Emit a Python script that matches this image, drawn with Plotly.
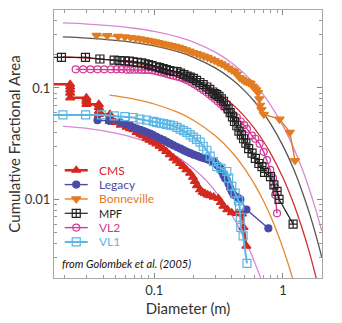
import plotly.graph_objects as go
import numpy as np

# ---- rock size-frequency data: diameter (m) and cumulative fractional area ----
cms_d = [0.010, 0.0222, 0.0222, 0.0222, 0.0222, 0.0222, 0.0297, 0.0297, 0.0297, 0.0297,
         0.0371, 0.0371, 0.0371, 0.0371, 0.0452, 0.0452, 0.0452, 0.0452, 0.050, 0.055,
         0.061, 0.065, 0.069, 0.073, 0.078, 0.082, 0.087, 0.092, 0.098, 0.104, 0.110,
         0.117, 0.124, 0.132, 0.141, 0.150, 0.159, 0.168, 0.178, 0.190, 0.200, 0.207,
         0.215, 0.227, 0.238, 0.248, 0.260, 0.272, 0.290, 0.315, 0.330, 0.345, 0.370,
         0.400, 0.440, 0.480, 0.494, 0.520]
cms_f = [0.108, 0.108, 0.102, 0.096, 0.090, 0.0816, 0.0816, 0.078, 0.075, 0.0713,
         0.0713, 0.067, 0.062, 0.058, 0.058, 0.055, 0.052, 0.0500, 0.0490, 0.0465,
         0.0444, 0.0432, 0.0423, 0.040, 0.0385, 0.0374, 0.0355, 0.0340, 0.0327, 0.0315, 0.0300,
         0.0285, 0.0270, 0.0252, 0.0235, 0.0222, 0.0210, 0.0198, 0.0185, 0.0172, 0.0158, 0.0145,
         0.0133, 0.0122, 0.0116, 0.0113, 0.0110, 0.0108, 0.0105, 0.0102, 0.0094, 0.0087, 0.0081,
         0.0076, 0.0075, 0.0074, 0.0056, 0.0038]

legacy_d = [0.0362, 0.0446, 0.0541, 0.060, 0.065, 0.0686, 0.073, 0.078, 0.0825, 0.0873,
            0.093, 0.098, 0.104, 0.111, 0.118, 0.125, 0.133, 0.141, 0.150, 0.160, 0.170,
            0.179, 0.190, 0.202, 0.215, 0.227, 0.240, 0.255, 0.270, 0.288, 0.300, 0.312,
            0.325, 0.335, 0.345, 0.355, 0.366, 0.378, 0.389, 0.401, 0.413, 0.440, 0.466,
            0.520, 0.770]
legacy_f = [0.0514, 0.0507, 0.0491, 0.0475, 0.0460, 0.0444, 0.0432, 0.0420, 0.0410, 0.0400,
            0.0390, 0.0378, 0.0365, 0.0352, 0.0340, 0.0328, 0.0316, 0.0305, 0.0295, 0.0285, 0.0275,
            0.0267, 0.0260, 0.0252, 0.0246, 0.0240, 0.0235, 0.0230, 0.0225, 0.0218, 0.0210, 0.0200,
            0.0190, 0.0178, 0.0165, 0.0155, 0.0150, 0.0138, 0.0126, 0.0118, 0.0110, 0.0105, 0.0100,
            0.0081, 0.0055]

bonneville_d = [0.0356, 0.0431, 0.0524, 0.0591, 0.0655, 0.0716, 0.0774, 0.0832, 0.0893, 0.0955,
                0.101, 0.107, 0.114, 0.121, 0.128, 0.136, 0.145, 0.155, 0.165, 0.176, 0.188,
                0.200, 0.214, 0.228, 0.243, 0.259, 0.276, 0.294, 0.313, 0.333, 0.355, 0.378,
                0.400, 0.420, 0.440, 0.460, 0.480, 0.500, 0.520, 0.540, 0.560, 0.580, 0.600,
                0.620, 0.640, 0.655, 0.665, 0.680, 0.710, 0.940, 1.13, 1.24]
bonneville_f = [0.297, 0.295, 0.290, 0.287, 0.283, 0.280, 0.276, 0.272, 0.268, 0.264,
                0.260, 0.256, 0.252, 0.248, 0.244, 0.240, 0.236, 0.231, 0.226, 0.220, 0.214,
                0.208, 0.203, 0.198, 0.193, 0.188, 0.182, 0.176, 0.170, 0.165, 0.158, 0.151,
                0.145, 0.140, 0.133, 0.124, 0.120, 0.116, 0.114, 0.112, 0.110, 0.104, 0.100,
                0.096, 0.091, 0.080, 0.070, 0.064, 0.058, 0.0525, 0.040, 0.0223]

mpf_d = [0.010, 0.0190, 0.0292, 0.0378, 0.0488, 0.0540, 0.0591, 0.0640, 0.0686, 0.0740,
         0.0798, 0.0850, 0.0900, 0.0960, 0.1044, 0.110, 0.117, 0.124, 0.132, 0.141, 0.150,
         0.160, 0.170, 0.180, 0.190, 0.201, 0.213, 0.226, 0.240, 0.256, 0.270, 0.285, 0.296,
         0.306, 0.318, 0.332, 0.345, 0.360, 0.375, 0.389, 0.405, 0.420, 0.438, 0.455, 0.475,
         0.494, 0.515, 0.541, 0.575, 0.610, 0.650, 0.687, 0.720, 0.800, 0.850, 0.900, 0.932,
         1.199]
mpf_f = [0.188, 0.188, 0.188, 0.182, 0.178, 0.176, 0.175, 0.174, 0.172, 0.170,
         0.168, 0.165, 0.162, 0.159, 0.155, 0.152, 0.149, 0.146, 0.143, 0.141, 0.140,
         0.136, 0.132, 0.128, 0.125, 0.122, 0.117, 0.112, 0.107, 0.102, 0.097, 0.092, 0.089,
         0.087, 0.084, 0.080, 0.076, 0.070, 0.065, 0.060, 0.055, 0.050, 0.0458, 0.041, 0.038,
         0.035, 0.032, 0.0285, 0.026, 0.0233, 0.021, 0.0197, 0.0175, 0.0160, 0.0135, 0.0118, 0.0100,
         0.0060]

vl2_d = [0.0245, 0.0280, 0.0319, 0.0362, 0.0408, 0.0460, 0.0509, 0.0557, 0.0609, 0.065,
         0.070, 0.075, 0.080, 0.085, 0.090, 0.096, 0.102, 0.108, 0.114, 0.120, 0.127, 0.134,
         0.141, 0.149, 0.157, 0.166, 0.175, 0.185, 0.195, 0.205, 0.216, 0.227, 0.240, 0.253,
         0.267, 0.280, 0.295, 0.310, 0.327, 0.345, 0.366, 0.390, 0.415, 0.438, 0.470, 0.500,
         0.525, 0.574, 0.610, 0.658, 0.708, 0.751, 0.797, 0.837, 0.860, 0.870, 0.899]
vl2_f = [0.147, 0.147, 0.147, 0.147, 0.147, 0.147, 0.147, 0.147, 0.146, 0.146,
         0.146, 0.146, 0.145, 0.145, 0.145, 0.144, 0.142, 0.140, 0.138, 0.136, 0.133, 0.131,
         0.129, 0.127, 0.125, 0.122, 0.119, 0.116, 0.112, 0.108, 0.104, 0.100, 0.096, 0.092,
         0.088, 0.084, 0.080, 0.076, 0.072, 0.068, 0.0644, 0.0600, 0.0570, 0.0543, 0.0500, 0.0465,
         0.0430, 0.0374, 0.0350, 0.0316, 0.0267, 0.0225, 0.0184, 0.0155, 0.0131, 0.0110, 0.0075]

vl1_d = [0.010, 0.0195, 0.0293, 0.0389, 0.0488, 0.0591, 0.0686, 0.0774, 0.0873, 0.0982,
         0.104, 0.111, 0.118, 0.125, 0.133, 0.141, 0.150, 0.159, 0.169, 0.179, 0.190,
         0.201, 0.213, 0.227, 0.240, 0.256, 0.272, 0.288, 0.306, 0.330, 0.366, 0.378,
         0.400, 0.425, 0.451, 0.460, 0.466, 0.470, 0.490, 0.525]
vl1_f = [0.0573, 0.0573, 0.0573, 0.0573, 0.0561, 0.0554, 0.0543, 0.0525, 0.0514, 0.0501,
         0.0492, 0.0484, 0.0478, 0.0471, 0.0465, 0.0458, 0.0443, 0.0428, 0.0414, 0.0400, 0.0380,
         0.0362, 0.0345, 0.0327, 0.0300, 0.0276, 0.0245, 0.0218, 0.0197, 0.0190, 0.0178, 0.0155,
         0.0131, 0.0114, 0.0097, 0.0087, 0.0069, 0.0056, 0.0047, 0.00266]

# ---- model curves (rock abundance k = 5, 10, 20, 30, 40 %) ----
model_d = [0.0195, 0.03, 0.05, 0.07, 0.1, 0.15, 0.2, 0.3, 0.4, 0.5, 0.6, 0.7, 0.8,
           1.0, 1.2, 1.4, 1.6, 1.8, 2.0]
model_k40 = [0.3834, 0.3748, 0.3589, 0.3436, 0.3220, 0.2889, 0.2592, 0.2086, 0.1679, 0.1352,
             0.1088, 0.0876, 0.0705, 0.0457, 0.0296, 0.0192, 0.0124, 0.00805, 0.00522]
model_k30 = [0.2869, 0.2800, 0.2674, 0.2555, 0.2384, 0.2126, 0.1895, 0.1506, 0.1197, 0.0952,
             0.0756, 0.0601, 0.0478, 0.0302, 0.0191, 0.01204, 0.0076, 0.0048, 0.00304]
model_k20 = [0.1903, 0.1853, 0.1761, 0.1673, 0.1550, 0.1364, 0.1201, 0.0931, 0.0721, 0.0559,
             0.0433, 0.0336, 0.0260, 0.01562, 0.00938, 0.00563, 0.00338, 0.00203, 0.00122]
model_k10_d = [0.045, 0.05, 0.07, 0.1, 0.15, 0.2, 0.3, 0.4, 0.5, 0.6, 0.7, 0.8, 0.9, 1.0, 1.1, 1.2]
model_k10 = [0.0862, 0.0848, 0.0793, 0.0718, 0.0609, 0.0516, 0.0370, 0.0266, 0.0191, 0.0137,
             0.00986, 0.00708, 0.00508, 0.00365, 0.00262, 0.00188]
model_k5_d = [0.0195, 0.03, 0.05, 0.07, 0.1, 0.15, 0.2, 0.25, 0.3, 0.35, 0.4, 0.45, 0.5,
              0.55, 0.6, 0.65, 0.7]
model_k5 = [0.0455, 0.0433, 0.0393, 0.0357, 0.0308, 0.0242, 0.0190, 0.0150, 0.0117, 0.00922,
            0.00724, 0.00569, 0.00447, 0.00351, 0.00276, 0.00217, 0.00170]

PINK = "#d58ad4"
GRAY = "#555555"
RED_M = "#d42e2e"
ORANGE_M = "#e5892e"

C_CMS = "#d3291f"
C_LEG = "#4b4ba6"
C_BON = "#e27c22"
C_MPF = "#222222"
C_VL2 = "#d23a94"
C_VL1 = "#5bb6e4"

FONT = "Lato"

fig = go.Figure()

models = [
    (model_d, model_k40, PINK),
    (model_d, model_k30, GRAY),
    (model_d, model_k20, RED_M),
    (model_k10_d, model_k10, ORANGE_M),
    (model_k5_d, model_k5, PINK),
]
for xd, yd, col in models:
    fig.add_trace(go.Scatter(x=xd, y=yd, mode="lines", line=dict(color=col, width=1.3, shape="spline"),
                             showlegend=False, hoverinfo="skip", cliponaxis=True))

series = [
    ("CMS", cms_d, cms_f, C_CMS, "triangle-up", 8, 2.6),
    ("Legacy", legacy_d, legacy_f, C_LEG, "circle", 7, 1.4),
    ("Bonneville", bonneville_d, bonneville_f, C_BON, "triangle-down", 8, 1.4),
    ("VL2", vl2_d, vl2_f, C_VL2, "circle-open", 7, 1.4),
    ("MPF", mpf_d, mpf_f, C_MPF, "square-cross-open", 8, 1.2),
    ("VL1", vl1_d, vl1_f, C_VL1, "square-open", 8, 2.0),
]
for name, xd, yd, col, sym, size, lw in series:
    fig.add_trace(go.Scatter(
        x=xd, y=yd, mode="lines+markers", name=name,
        line=dict(color=col, width=lw),
        marker=dict(symbol=sym, size=size, color=col, line=dict(color=col, width=1.2)),
        showlegend=False, cliponaxis=True,
    ))

# ---- legend key, drawn on its own unit subplot laid over the plot area ----
key_rows = [
    ("CMS", C_CMS, "triangle-up", 8, 2.6, 12),
    ("Legacy", C_LEG, "circle", 7, 1.4, 12),
    ("Bonneville", C_BON, "triangle-down", 8, 1.4, 12),
    ("MPF", C_MPF, "square-cross-open", 8, 1.2, 11),
    ("VL2", C_VL2, "circle-open", 7, 1.4, 12),
    ("VL1", C_VL1, "square-open", 8, 2.0, 12),
]
key_x0, key_x1, key_text_x = 0.040, 0.126, 0.165
key_y_top, key_step = 0.402, 0.0535
for i, (name, col, sym, size, lw, fs) in enumerate(key_rows):
    yk = key_y_top - i * key_step
    fig.add_trace(go.Scatter(
        x=[key_x0, (key_x0 + key_x1) / 2, key_x1], y=[yk, yk, yk],
        xaxis="x2", yaxis="y2", mode="lines+markers",
        line=dict(color=col, width=lw),
        marker=dict(symbol=sym, size=size, color=col, opacity=[0, 1, 0],
                    line=dict(color=col, width=1.2)),
        showlegend=False, hoverinfo="skip",
    ))
    fig.add_annotation(x=key_text_x, y=yk, xref="paper", yref="paper", text=name,
                       showarrow=False, xanchor="left", yanchor="middle", borderpad=0,
                       font=dict(family=FONT, size=fs, color=col))

fig.add_annotation(x=0.022, y=0.055, xref="paper", yref="paper",
                   text="<i>from Golombek et al. (2005)</i>", showarrow=False,
                   xanchor="left", yanchor="middle",
                   font=dict(family=FONT, size=11, color="#111"))

def minor_vals(decades):
    vals = []
    for d in decades:
        for m in range(2, 10):
            vals.append(m * 10.0 ** d)
    return vals

axis_common = dict(
    type="log", showgrid=False, zeroline=False,
    showline=True, linecolor="#a8a8a8", linewidth=1, mirror="ticks",
    ticks="inside", ticklen=5, tickcolor="#888", tickwidth=1,
    tickfont=dict(family=FONT, size=13, color="#333"),
)

fig.update_layout(
    width=342, height=323,
    margin=dict(l=54, r=20, t=9, b=41),
    paper_bgcolor="white", plot_bgcolor="rgba(0,0,0,0)",
    showlegend=False,
    xaxis=dict(**axis_common, range=[np.log10(0.01663), np.log10(2.01)],
               tickvals=[0.1, 1], ticktext=["0.1", "1"],
               minor=dict(tickvals=minor_vals([-2, -1, 0]), ticks="inside", ticklen=3,
                          tickcolor="#999", showgrid=False),
               title=dict(text="Diameter (m)", font=dict(family=FONT, size=15, color="#333"),
                          standoff=6)),
    yaxis=dict(**axis_common, range=[np.log10(0.00197), np.log10(0.501)],
               tickvals=[0.01, 0.1], ticktext=["0.01", "0.1"],
               minor=dict(tickvals=minor_vals([-3, -2, -1]), ticks="inside", ticklen=3,
                          tickcolor="#999", showgrid=False),
               title=dict(text="Cumulative Fractional Area",
                          font=dict(family=FONT, size=15, color="#333"), standoff=0)),
    xaxis2=dict(domain=[0, 1], anchor="y2", range=[0, 1], visible=False, fixedrange=True),
    yaxis2=dict(domain=[0, 1], anchor="x2", range=[0, 1], visible=False, fixedrange=True),
)

fig.write_html("out.html")
